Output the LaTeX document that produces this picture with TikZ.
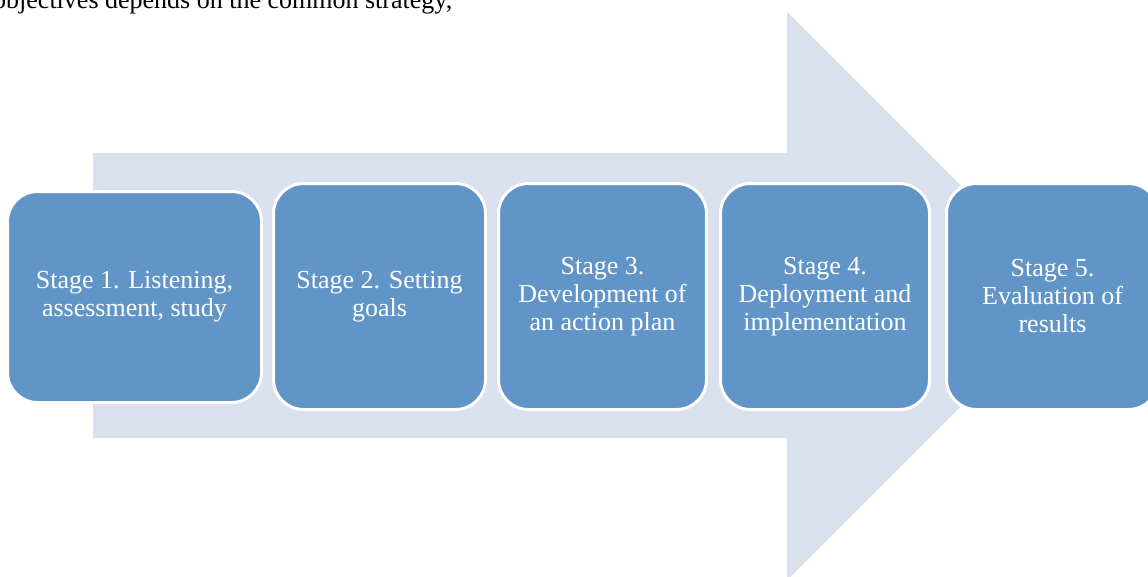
\documentclass[tikz,border=0pt]{standalone}
\usepackage{fontspec}
\setmainfont{Liberation Serif}
\definecolor{arrowfill}{RGB}{218,224,238}
\definecolor{stagefill}{RGB}{97,149,200}
\begin{document}
\begin{tikzpicture}[x=1pt,y=-1pt,
  stagebox/.style={draw=white, line width=3pt, fill=stagefill,
    rounded corners=30pt, text=white, align=center, inner sep=0pt,
    font=\fontsize{26}{28}\selectfont},
  bodytext/.style={inner sep=0pt, anchor=base west,
    font=\fontsize{26}{30}\selectfont}]
  \useasboundingbox (0,0) rectangle (1148,576);
  \clip (0,0) rectangle (1148,576);

  % running text of the page above the figure
  \node[bodytext] (caption) at (-7,8) {objectives depends on the common strategy,};

  % large background arrow
  \fill[arrowfill] (93,153) -- (787,153) -- (787,12) -- (1071,296)
    -- (787,580) -- (787,438) -- (93,438) -- cycle;

  % process stages
  \node[stagebox, minimum width=254pt, minimum height=211pt] (s1) at (134.5,297)
    {Stage 1. Listening,\\assessment, study};
  \node[stagebox, minimum width=212pt, minimum height=226pt] (s2) at (379.5,296.5)
    {Stage 2. Setting\\goals};
  \node[stagebox, minimum width=208pt, minimum height=226pt] (s3) at (602.5,296.5)
    {Stage 3.\\Development of\\an action plan};
  \node[stagebox, minimum width=209pt, minimum height=226pt] (s4) at (825,296.5)
    {Stage 4.\\Deployment and\\implementation};
  \node[stagebox, minimum width=212pt, minimum height=226pt] (s5) at (1052.5,296.5)
    {Stage 5.\\Evaluation of\\results};
\end{tikzpicture}
\end{document}
